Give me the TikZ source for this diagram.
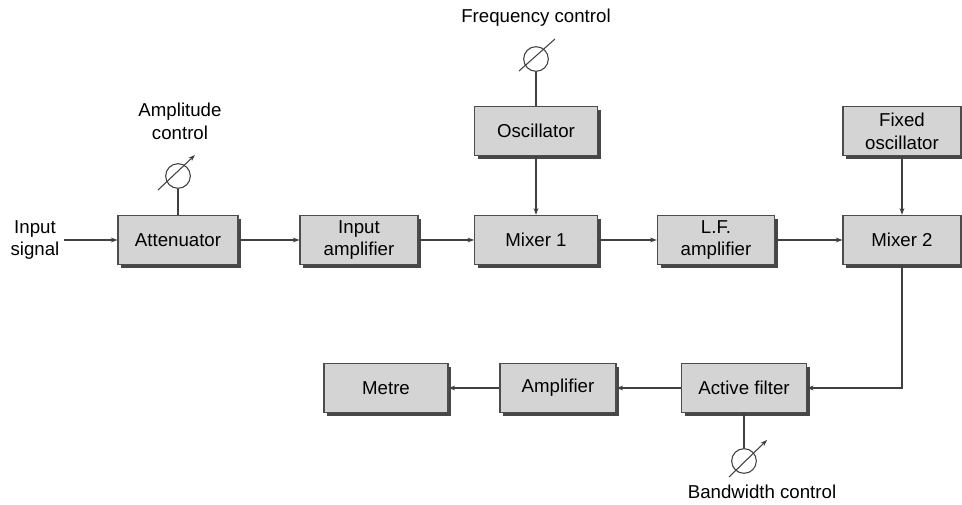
\documentclass[tikz,border=0pt]{standalone}
\usepackage{fontspec}
\setmainfont{Liberation Sans}
\usetikzlibrary{arrows.meta,shadows}
\tikzset{
  blk/.style={draw=black!70,fill=black!17,line width=0.8pt,minimum height=37pt,align=center,
    font=\fontsize{14}{17}\selectfont,
    drop shadow={shadow xshift=2.5pt,shadow yshift=-2.5pt,fill=black!72,opacity=1}},
  knob/.style={draw=black!75,line width=0.8pt,circle,minimum size=18.5pt,inner sep=0pt},
  lbl/.style={align=center,font=\fontsize{14}{17}\selectfont},
  wire/.style={draw=black!75,line width=0.8pt},
  >={Stealth[length=5pt,width=3.6pt]}
}
\begin{document}
\begin{tikzpicture}[x=0.75pt,y=-0.75pt]
\useasboundingbox (0,0) rectangle (962,505);
% top row
\node[blk,minimum width=90pt] (att) at (178,240) {Attenuator};
\node[blk,minimum width=88.5pt] (inamp) at (359,240) {Input\\amplifier};
\node[blk,minimum width=92pt] (mix1) at (536,240) {Mixer 1};
\node[blk,minimum width=88pt] (lfamp) at (716,240) {L.F.\\amplifier};
\node[blk,minimum width=88.5pt] (mix2) at (902,240) {Mixer 2};
\node[blk,minimum width=92pt] (osc) at (536,131) {Oscillator};
\node[blk,minimum width=88.5pt] (fosc) at (902,131) {Fixed\\oscillator};
% bottom row
\node[blk,minimum width=93pt] (metre) at (386,388) {Metre};
\node[blk,minimum width=87pt] (amp) at (558,388) {Amplifier};
\node[blk,minimum width=93.5pt] (filt) at (744,388) {Active filter};
% labels
\node[lbl] (insig) at (35,240) {Input\\signal};
\node[lbl] (amptxt) at (180,121) {Amplitude\\control};
\node[lbl] (freqtxt) at (536,18) {Frequency control};
\node[lbl] (bwtxt) at (762,492) {Bandwidth control};
% knobs
\node[knob] (ka) at (178,176) {};
\node[knob] (kf) at (536,59) {};
\node[knob] (kb) at (744,461) {};
\draw[wire,->] ([shift={(-20,14)}]ka.center) -- ([shift={(17,-21)}]ka.center);
\draw[wire] ([shift={(-17,12)}]kf.center) -- ([shift={(19,-20)}]kf.center);
\draw[wire,->] ([shift={(-15,16)}]kb.center) -- ([shift={(23,-21)}]kb.center);
\draw[wire] (ka) -- (att);
\draw[wire] (kf) -- (osc);
\draw[wire] (kb) -- (filt);
% signal path
\draw[wire,->] (insig) -- (att);
\draw[wire,->] (att) -- (inamp);
\draw[wire,->] (inamp) -- (mix1);
\draw[wire,->] (mix1) -- (lfamp);
\draw[wire,->] (lfamp) -- (mix2);
\draw[wire,->] (osc) -- (mix1);
\draw[wire,->] (fosc) -- (mix2);
\draw[wire,->] (mix2.south) |- (filt.east);
\draw[wire,->] (filt) -- (amp);
\draw[wire,->] (amp) -- (metre);
\end{tikzpicture}
\end{document}
